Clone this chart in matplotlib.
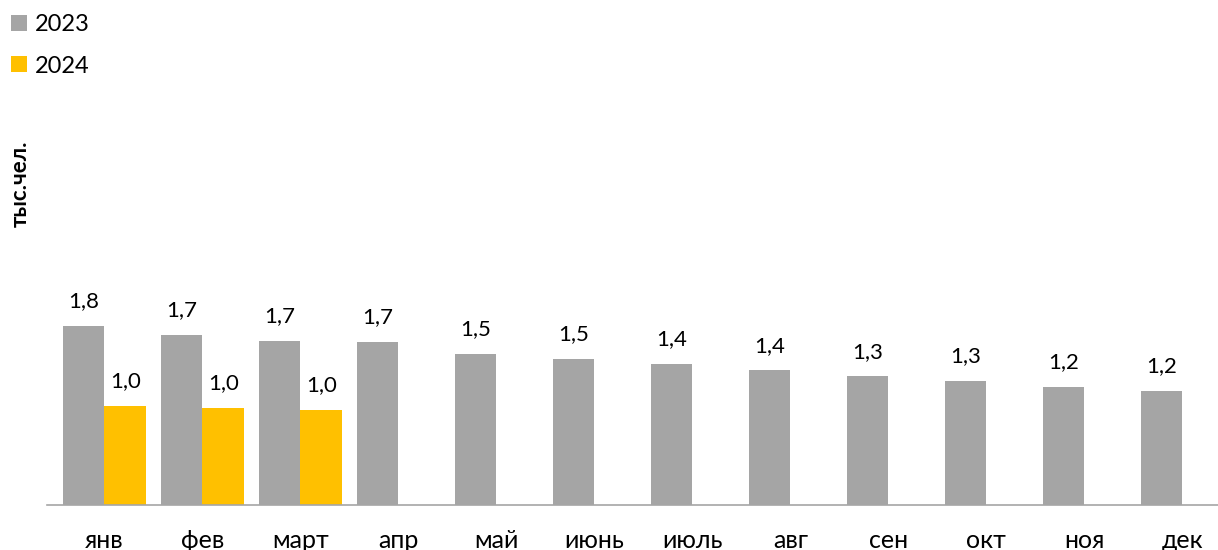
import matplotlib
matplotlib.use("Agg")
import matplotlib.pyplot as plt
import numpy as np

plt.rcParams['font.family'] = ['Lato', 'DejaVu Sans']

months = ["янв", "фев", "март", "апр", "май", "июнь", "июль", "авг", "сен", "окт", "ноя", "дек"]
values_2023 = [1.82, 1.73, 1.67, 1.66, 1.54, 1.49, 1.44, 1.37, 1.31, 1.26, 1.20, 1.16]
values_2024 = [1.01, 0.99, 0.97]
series_names = ["2023", "2024"]
ylabel_text = "тыс.чел."

c2023 = "#A5A5A5"
c2024 = "#FFC000"

W, H = 1218, 550
fig = plt.figure(figsize=(W / 100, H / 100), dpi=100)

ax_left_px, ax_bottom_px = 46.7, 45
ymax = 2.4
px_per_unit = 98.2
ax_h_px = ymax * px_per_unit
ax = fig.add_axes([ax_left_px / W, ax_bottom_px / H, (W - ax_left_px) / W, ax_h_px / H])

x = np.arange(len(months))
bw = 0.4255
b1 = ax.bar(x - bw / 2, values_2023, width=bw, color=c2023, label=series_names[0])
x24 = x[:len(values_2024)]
b2 = ax.bar(x24 + bw / 2, values_2024, width=bw, color=c2024, label=series_names[1])

def fmt(v):
    return f"{v:.1f}".replace(".", ",")

for bars, vals in ((b1, values_2023), (b2, values_2024)):
    for rect, v in zip(bars, vals):
        ax.annotate(fmt(v), (rect.get_x() + rect.get_width() / 2, rect.get_height()),
                    xytext=(0, 13.5), textcoords="offset points",
                    ha="center", va="baseline", fontsize=16, color="#000000")

ax.set_xlim(-0.588, 11.364)
ax.set_ylim(0, ymax)
ax.set_xticks(x)
ax.set_xticklabels(months, fontsize=18)
ax.tick_params(axis="x", length=0, pad=17)
ax.set_yticks([])
for s in ("top", "right", "left"):
    ax.spines[s].set_visible(False)
ax.spines["bottom"].set_color("#A6A6A6")
ax.spines["bottom"].set_linewidth(1.2)

fig.text(20.5 / W, 1 - 184 / H, ylabel_text, rotation=90, fontsize=16, fontweight="bold",
         ha="center", va="center")

leg = fig.legend(handles=[b1, b2], labels=series_names, loc="upper left",
                 bbox_to_anchor=(2 / W, 1 - 5 / H), frameon=False, fontsize=17,
                 handlelength=0.64, handleheight=0.64, handletextpad=0.35,
                 labelspacing=0.85, borderaxespad=0)

fig.savefig("out.png", dpi=100)
